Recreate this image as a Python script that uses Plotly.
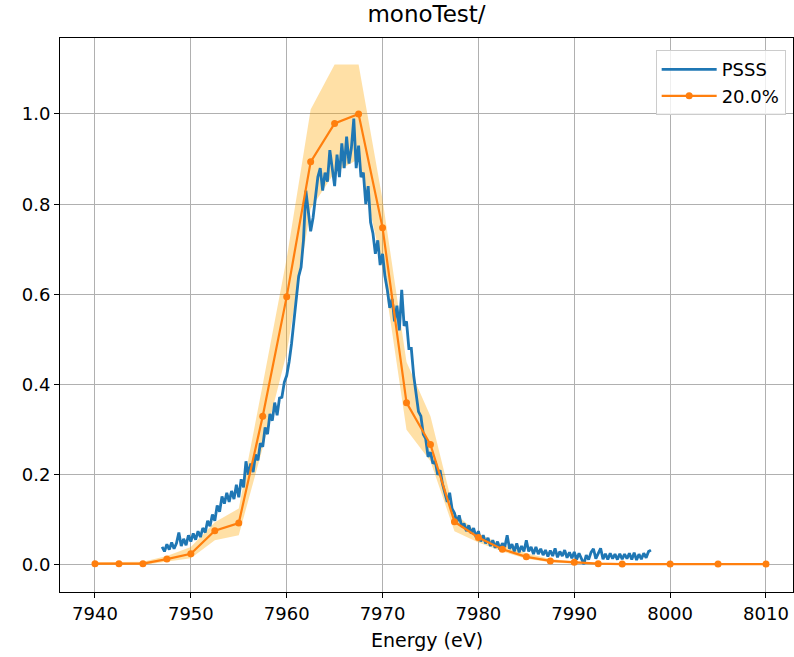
import numpy as np
import plotly.graph_objects as go

# ---------------- data ----------------
scan_energy = [7940, 7942.5, 7945, 7947.5, 7950, 7952.5, 7955, 7957.5, 7960, 7962.5,
               7965, 7967.5, 7970, 7972.5, 7975, 7977.5, 7980, 7982.5, 7985, 7987.5,
               7990, 7992.5, 7995, 8000, 8005, 8010]
scan_mean = [0.003, 0.003, 0.003, 0.013, 0.025, 0.076, 0.093, 0.33, 0.595, 0.894,
             0.979, 1.0, 0.748, 0.36, 0.267, 0.096, 0.061, 0.035, 0.018, 0.009,
             0.006, 0.003, 0.002, 0.002, 0.002, 0.002]
scan_lower = [0.0, 0.0, 0.0, 0.007, 0.015, 0.055, 0.066, 0.26, 0.47, 0.79,
              0.87, 0.90, 0.66, 0.30, 0.23, 0.075, 0.05, 0.03, 0.014, 0.006,
              0.003, 0.001, 0.0, 0.0, 0.0, 0.0]
scan_upper = [0.006, 0.006, 0.007, 0.02, 0.04, 0.095, 0.125, 0.40, 0.68, 1.01,
              1.11, 1.11, 0.81, 0.45, 0.33, 0.115, 0.07, 0.045, 0.026, 0.013,
              0.008, 0.005, 0.004, 0.004, 0.004, 0.004]

psss_start, psss_stop = 7947.0, 7998.0
psss_values = [
    0.040, 0.030, 0.046, 0.034,  # 7947
    0.050, 0.036, 0.048, 0.072,  # 7948
    0.042, 0.058, 0.044, 0.066,  # 7949
    0.052, 0.070, 0.056, 0.075,  # 7950
    0.062, 0.082, 0.072, 0.098,  # 7951
    0.086, 0.112, 0.098, 0.132,  # 7952
    0.118, 0.152, 0.136, 0.160,  # 7953
    0.140, 0.164, 0.146, 0.178,  # 7954
    0.150, 0.190, 0.172, 0.230,  # 7955
    0.200, 0.225, 0.206, 0.245,  # 7956
    0.232, 0.270, 0.262, 0.305,  # 7957
    0.290, 0.335, 0.320, 0.360,  # 7958
    0.332, 0.370, 0.372, 0.405,  # 7959
    0.420, 0.450, 0.490, 0.545,  # 7960
    0.585, 0.640, 0.660, 0.720,  # 7961
    0.830, 0.780, 0.740, 0.770,  # 7962
    0.820, 0.860, 0.880, 0.830,  # 7963
    0.870, 0.850, 0.920, 0.875,  # 7964
    0.840, 0.910, 0.860, 0.935,  # 7965
    0.880, 0.950, 0.890, 0.925,  # 7966
    0.990, 0.880, 0.930, 0.860,  # 7967
    0.870, 0.800, 0.840, 0.760,  # 7968
    0.735, 0.690, 0.720, 0.665,  # 7969
    0.690, 0.640, 0.610, 0.570,  # 7970
    0.590, 0.540, 0.575, 0.520,  # 7971
    0.610, 0.530, 0.540, 0.480,  # 7972
    0.480, 0.420, 0.380, 0.340,  # 7973
    0.330, 0.290, 0.280, 0.240,  # 7974
    0.250, 0.225, 0.230, 0.200,  # 7975
    0.210, 0.180, 0.160, 0.140,  # 7976
    0.160, 0.125, 0.115, 0.095,  # 7977
    0.110, 0.085, 0.092, 0.075,  # 7978
    0.088, 0.070, 0.082, 0.062,  # 7979
    0.075, 0.052, 0.066, 0.048,  # 7980
    0.060, 0.042, 0.055, 0.038,  # 7981
    0.052, 0.034, 0.048, 0.040,  # 7982
    0.066, 0.036, 0.046, 0.030,  # 7983
    0.048, 0.028, 0.042, 0.030,  # 7984
    0.055, 0.030, 0.040, 0.024,  # 7985
    0.040, 0.024, 0.036, 0.022,  # 7986
    0.033, 0.019, 0.032, 0.020,  # 7987
    0.037, 0.017, 0.030, 0.020,  # 7988
    0.033, 0.016, 0.028, 0.015,  # 7989
    0.029, 0.012, 0.026, 0.013,  # 7990
    0.002, 0.022, 0.012, 0.028,  # 7991
    0.036, 0.014, 0.026, 0.037,  # 7992
    0.013, 0.025, 0.012, 0.026,  # 7993
    0.014, 0.024, 0.012, 0.025,  # 7994
    0.013, 0.024, 0.014, 0.026,  # 7995
    0.012, 0.027, 0.011, 0.024,  # 7996
    0.013, 0.026, 0.016, 0.030,  # 7997
    0.033,                       # 7998
]
psss_energy = np.linspace(psss_start, psss_stop, len(psss_values))

x_ticks = [7940, 7950, 7960, 7970, 7980, 7990, 8000, 8010]
y_ticks = [0.0, 0.2, 0.4, 0.6, 0.8, 1.0]

# ---------------- figure ----------------
FONT = "DejaVu Sans"
W, H = 794, 657
ML, MR, MT, MB = 60, 1, 38, 65
fig = go.Figure()

fig.add_trace(go.Scatter(
    x=scan_energy + scan_energy[::-1],
    y=scan_upper + scan_lower[::-1],
    fill="toself", fillcolor="rgba(255,165,0,0.35)",
    line=dict(width=0), mode="lines", hoverinfo="skip", showlegend=False))

fig.add_trace(go.Scatter(
    x=psss_energy, y=psss_values, mode="lines", name="PSSS",
    line=dict(color="#1f77b4", width=2.8)))

fig.add_trace(go.Scatter(
    x=scan_energy, y=scan_mean, mode="lines+markers", name="20.0%",
    line=dict(color="#ff7f0e", width=2.2),
    marker=dict(color="#ff7f0e", size=7)))

axis_common = dict(
    showline=True, linecolor="black", linewidth=1, mirror=True,
    ticks="outside", ticklen=5, tickwidth=1, tickcolor="black",
    showgrid=True, gridcolor="#b0b0b0", gridwidth=1.2, zeroline=False,
    automargin=False,
    tickfont=dict(family=FONT, size=18, color="black"))

fig.update_xaxes(range=[7936.35, 8012.82], tickvals=x_ticks,
                 ticktext=[str(v) for v in x_ticks], **axis_common)
fig.update_yaxes(range=[-0.0599, 1.1685], tickvals=y_ticks,
                 tickformat=".1f", **axis_common)

plot_h = H - MT - MB
fig.update_layout(
    width=W, height=H,
    margin=dict(l=ML, r=MR, t=MT, b=MB, autoexpand=False),
    paper_bgcolor="white", plot_bgcolor="white",
    title=dict(text="monoTest/", x=(ML + W - MR) / 2 / W, xanchor="center",
               y=1 - 14 / H, yanchor="middle", yref="container",
               font=dict(family=FONT, size=23, color="black")),
    legend=dict(x=0.990, xanchor="right", y=0.978, yanchor="top",
                bgcolor="rgba(255,255,255,0.8)", bordercolor="#cccccc",
                borderwidth=1, itemwidth=55,
                font=dict(family=FONT, size=18, color="black")),
    annotations=[dict(text="Energy (eV)", xref="paper", yref="paper",
                      x=0.5, y=-48 / plot_h, xanchor="center",
                      yanchor="middle", showarrow=False,
                      font=dict(family=FONT, size=19, color="black"))],
)

# remove the browser's default 8px page margin so the figure sits at (0, 0)
fig.write_html("out.html",
               config={"displayModeBar": False},
               post_script="document.body.style.margin='0px';"
                           "document.body.style.overflow='hidden';")
